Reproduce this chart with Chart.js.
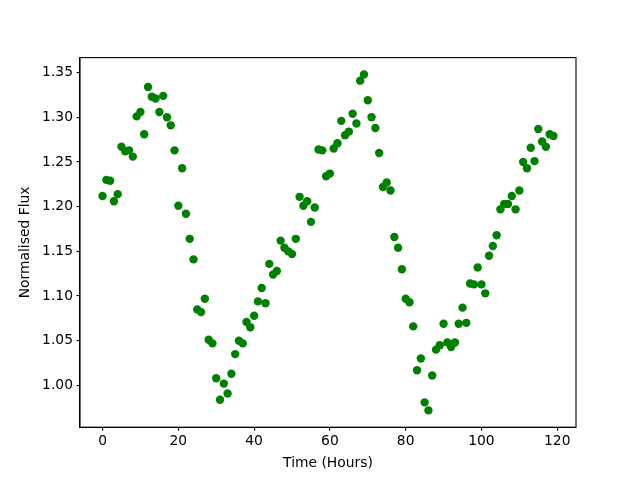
<!DOCTYPE html>
<html>
<head>
<meta charset="utf-8">
<script src="https://cdn.jsdelivr.net/npm/chart.js@4/dist/chart.umd.min.js"></script>
<style>
html,body{margin:0;padding:0;background:#fff;}
#c{display:block;}
</style>
</head>
<body>
<canvas id="c" width="640" height="480"></canvas>
<script>
const hours = [0,1,2,3,4,5,6,7,8,9,10,11,12,13,14,15,16,17,18,19,20,21,22,23,24,25,26,27,28,29,30,31,32,33,34,35,36,37,38,39,40,41,42,43,44,45,46,47,48,49,50,51,52,53,54,55,56,57,58,59,60,61,62,63,64,65,66,67,68,69,70,71,72,73,74,75,76,77,78,79,80,81,82,83,84,85,86,87,88,89,90,91,92,93,94,95,96,97,98,99,100,101,102,103,104,105,106,107,108,109,110,111,112,113,114,115,116,117,118,119];
const flux = [1.212,1.230,1.229,1.206,1.214,1.267,1.262,1.263,1.256,1.301,1.306,1.281,1.334,1.323,1.321,1.306,1.324,1.300,1.291,1.263,
1.201,1.243,1.192,1.164,1.141,1.085,1.082,1.097,1.051,1.047,1.008,0.984,1.002,0.991,1.013,1.035,1.050,1.047,1.071,1.065,
1.078,1.094,1.109,1.092,1.136,1.124,1.128,1.162,1.154,1.150,1.147,1.164,1.211,1.201,1.206,1.183,1.199,1.264,1.263,1.234,
1.237,1.265,1.271,1.296,1.280,1.284,1.304,1.293,1.341,1.348,1.319,1.300,1.288,1.260,1.222,1.227,1.218,1.166,1.154,1.130,
1.097,1.093,1.066,1.017,1.030,0.981,0.972,1.011,1.040,1.045,1.069,1.048,1.043,1.048,1.069,1.087,1.070,1.114,1.113,1.132,
1.113,1.103,1.145,1.156,1.168,1.197,1.203,1.203,1.212,1.197,1.218,1.250,1.243,1.266,1.251,1.287,1.273,1.267,1.281,1.279];
const xTicks = [0,20,40,60,80,100,120];
const yTicks = [1.00,1.05,1.10,1.15,1.20,1.25,1.30,1.35];
const xLabel = 'Time (Hours)';
const yLabel = 'Normalised Flux';

const points = hours.map((h,i)=>({x:h,y:flux[i]}));
const FONT = {family:'DejaVu Sans', size:13.89};

const frame = {
  id:'frame',
  afterDatasetsDraw(chart){
    const {ctx, chartArea:a} = chart;
    ctx.save();
    ctx.strokeStyle='#000';
    ctx.lineWidth=1.1;
    ctx.strokeRect(a.left, a.top, a.right-a.left, a.bottom-a.top);
    ctx.restore();
  }
};

new Chart(document.getElementById('c'), {
  type:'scatter',
  data:{datasets:[{data:points, backgroundColor:'#008000', borderColor:'#008000', borderWidth:0, pointRadius:4.2, pointHoverRadius:4.2}]},
  options:{
    responsive:false, animation:false, devicePixelRatio:1,
    layout:{padding:{left:0,right:64,top:57.6,bottom:0}},
    plugins:{legend:{display:false}, tooltip:{enabled:false}},
    scales:{
      x:{type:'linear', min:-5.95, max:124.95,
        afterBuildTicks(s){ s.ticks = xTicks.map(v=>({value:v})); },
        afterFit(s){ s.height = 52.8; },
        grid:{drawOnChartArea:false, drawTicks:true, tickLength:3.5, color:'#000', lineWidth:1.1},
        border:{display:true, color:'#000', width:1.1},
        ticks:{color:'#000', font:FONT, padding:2, maxRotation:0, callback:v=>String(v)},
        title:{display:true, text:xLabel, color:'#000', font:FONT, padding:{top:0,bottom:8.5}}
      },
      y:{type:'linear', min:0.9532, max:1.3668,
        afterBuildTicks(s){ s.ticks = yTicks.map(v=>({value:v})); },
        afterFit(s){ s.width = 80; },
        grid:{drawOnChartArea:false, drawTicks:true, tickLength:3.5, color:'#000', lineWidth:1.1},
        border:{display:true, color:'#000', width:1.1},
        ticks:{color:'#000', font:FONT, padding:3.5, callback:v=>Number(v).toFixed(2)},
        title:{display:true, text:yLabel, color:'#000', font:FONT, padding:{top:17.5,bottom:0}}
      }
    }
  },
  plugins:[frame]
});
</script>
</body>
</html>
